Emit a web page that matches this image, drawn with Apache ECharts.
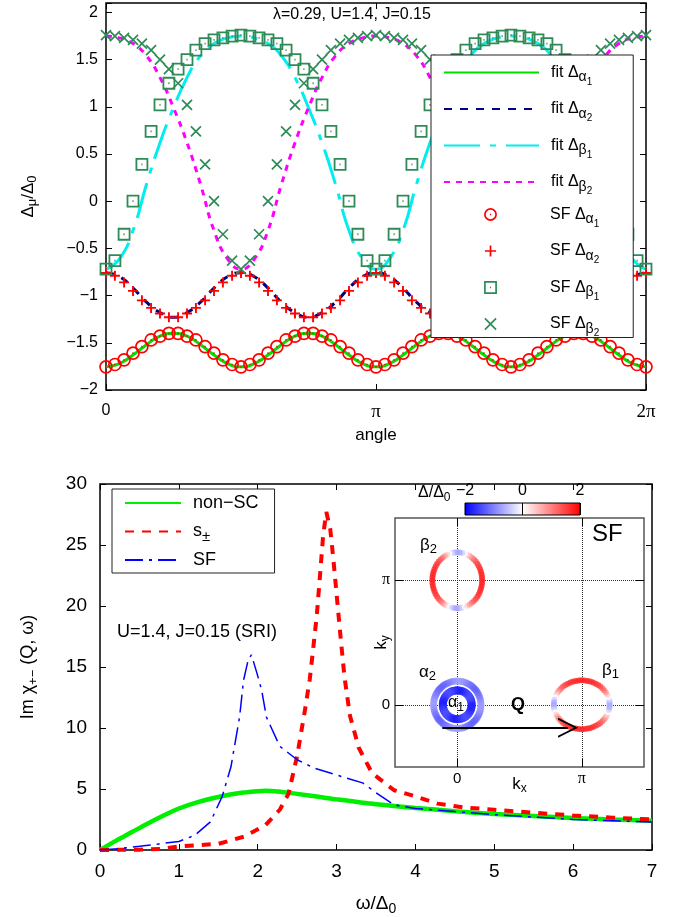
<!DOCTYPE html>
<html>
<head>
<meta charset="utf-8">
<script src="https://cdn.jsdelivr.net/npm/echarts@6/dist/echarts.min.js"></script>
<style>
  html, body { margin: 0; padding: 0; background: #fff; }
  #chart { width: 689px; height: 917px; }
</style>
</head>
<body>
<div id="chart"></div>
<script>
// ---- top panel: gap around the Fermi surfaces (angle in units of pi) ----
var sfAngle = [0, 0.033, 0.067, 0.1, 0.133, 0.167, 0.2, 0.233, 0.267, 0.3, 0.333, 0.367, 0.4, 0.433, 0.467,
  0.5, 0.533, 0.567, 0.6, 0.633, 0.667, 0.7, 0.733, 0.767, 0.8, 0.833, 0.867, 0.9, 0.933, 0.967,
  1, 1.033, 1.067, 1.1, 1.133, 1.167, 1.2, 1.233, 1.267, 1.3, 1.333, 1.367, 1.4, 1.433, 1.467,
  1.5, 1.533, 1.567, 1.6, 1.633, 1.667, 1.7, 1.733, 1.767, 1.8, 1.833, 1.867, 1.9, 1.933, 1.967, 2];

var sfAlpha1 = [-1.755, -1.73, -1.68, -1.61, -1.54, -1.47, -1.43, -1.40, -1.40, -1.43, -1.47, -1.54, -1.61, -1.68, -1.73,
  -1.755, -1.73, -1.68, -1.61, -1.54, -1.47, -1.43, -1.40, -1.40, -1.43, -1.47, -1.54, -1.61, -1.68, -1.73,
  -1.755, -1.73, -1.68, -1.61, -1.54, -1.47, -1.43, -1.40, -1.40, -1.43, -1.47, -1.54, -1.61, -1.68, -1.73,
  -1.755, -1.73, -1.68, -1.61, -1.54, -1.47, -1.43, -1.40, -1.40, -1.43, -1.47, -1.54, -1.61, -1.68, -1.73,
  -1.755];
var sfAlpha2 = [-0.76, -0.79, -0.86, -0.95, -1.05, -1.13, -1.19, -1.23, -1.23, -1.19, -1.13, -1.05, -0.95, -0.86, -0.79,
  -0.76, -0.79, -0.86, -0.95, -1.05, -1.13, -1.19, -1.23, -1.23, -1.19, -1.13, -1.05, -0.95, -0.86, -0.79,
  -0.76, -0.79, -0.86, -0.95, -1.05, -1.13, -1.19, -1.23, -1.23, -1.19, -1.13, -1.05, -0.95, -0.86, -0.79,
  -0.76, -0.79, -0.86, -0.95, -1.05, -1.13, -1.19, -1.23, -1.23, -1.19, -1.13, -1.05, -0.95, -0.86, -0.79,
  -0.76];
var sfBeta1 = [-0.72, -0.63, -0.35, 0.00, 0.39, 0.74, 1.02, 1.25, 1.40, 1.50, 1.60, 1.67, 1.71, 1.73, 1.75,
  1.76, 1.75, 1.73, 1.71, 1.67, 1.60, 1.50, 1.40, 1.25, 1.02, 0.74, 0.39, 0.00, -0.35, -0.63,
  -0.72, -0.63, -0.35, 0.00, 0.39, 0.74, 1.02, 1.25, 1.40, 1.50, 1.60, 1.67, 1.71, 1.73, 1.75,
  1.76, 1.75, 1.73, 1.71, 1.67, 1.60, 1.50, 1.40, 1.25, 1.02, 0.74, 0.39, 0.00, -0.35, -0.63,
  -0.72];
var sfBeta2 = [1.76, 1.75, 1.73, 1.71, 1.67, 1.60, 1.50, 1.40, 1.25, 1.02, 0.74, 0.39, 0.00, -0.35, -0.63,
  -0.72, -0.63, -0.35, 0.00, 0.39, 0.74, 1.02, 1.25, 1.40, 1.50, 1.60, 1.67, 1.71, 1.73, 1.75,
  1.76, 1.75, 1.73, 1.71, 1.67, 1.60, 1.50, 1.40, 1.25, 1.02, 0.74, 0.39, 0.00, -0.35, -0.63,
  -0.72, -0.63, -0.35, 0.00, 0.39, 0.74, 1.02, 1.25, 1.40, 1.50, 1.60, 1.67, 1.71, 1.73, 1.75,
  1.76];

var fitAngle = [0, 0.05, 0.1, 0.15, 0.2, 0.25, 0.3, 0.35, 0.4, 0.45, 0.5, 0.55, 0.6, 0.65, 0.7, 0.75, 0.8, 0.85, 0.9, 0.95,
  1, 1.05, 1.1, 1.15, 1.2, 1.25, 1.3, 1.35, 1.4, 1.45, 1.5, 1.55, 1.6, 1.65, 1.7, 1.75, 1.8, 1.85, 1.9, 1.95, 2];
var fitAlpha1 = [-1.755, -1.72, -1.63, -1.52, -1.43, -1.40, -1.43, -1.52, -1.63, -1.72,
  -1.755, -1.72, -1.63, -1.52, -1.43, -1.40, -1.43, -1.52, -1.63, -1.72,
  -1.755, -1.72, -1.63, -1.52, -1.43, -1.40, -1.43, -1.52, -1.63, -1.72,
  -1.755, -1.72, -1.63, -1.52, -1.43, -1.40, -1.43, -1.52, -1.63, -1.72, -1.755];
var fitAlpha2 = [-0.757, -0.80, -0.92, -1.07, -1.18, -1.23, -1.18, -1.07, -0.92, -0.80,
  -0.757, -0.80, -0.92, -1.07, -1.18, -1.23, -1.18, -1.07, -0.92, -0.80,
  -0.757, -0.80, -0.92, -1.07, -1.18, -1.23, -1.18, -1.07, -0.92, -0.80,
  -0.757, -0.80, -0.92, -1.07, -1.18, -1.23, -1.18, -1.07, -0.92, -0.80, -0.757];
var fitBeta1 = [-0.72, -0.61, -0.31, 0.18, 0.62, 0.99, 1.31, 1.54, 1.67, 1.73, 1.75, 1.73, 1.67, 1.54, 1.31, 0.99, 0.62, 0.18, -0.31, -0.61,
  -0.72, -0.61, -0.31, 0.18, 0.62, 0.99, 1.31, 1.54, 1.67, 1.73, 1.75, 1.73, 1.67, 1.54, 1.31, 0.99, 0.62, 0.18, -0.31, -0.61, -0.72];
var fitBeta2 = [1.75, 1.73, 1.67, 1.54, 1.31, 0.99, 0.62, 0.18, -0.31, -0.61, -0.72, -0.61, -0.31, 0.18, 0.62, 0.99, 1.31, 1.54, 1.67, 1.73,
  1.75, 1.73, 1.67, 1.54, 1.31, 0.99, 0.62, 0.18, -0.31, -0.61, -0.72, -0.61, -0.31, 0.18, 0.62, 0.99, 1.31, 1.54, 1.67, 1.73, 1.75];

// ---- bottom panel: Im chi(Q, omega) ----
var omegaNonSC = [0, 0.2, 0.4, 0.6, 0.8, 1.0, 1.25, 1.5, 1.75, 2.0, 2.1, 2.25, 2.5, 2.75, 3.0, 3.5, 4.0, 4.5, 5.0, 5.5, 6.0, 6.5, 7.0];
var chiNonSC = [0, 0.75, 1.45, 2.15, 2.8, 3.4, 3.95, 4.35, 4.65, 4.82, 4.85, 4.8, 4.6, 4.38, 4.15, 3.75, 3.45, 3.18, 2.95, 2.78, 2.62, 2.5, 2.4];

var omegaSpm = [0, 0.5, 0.8, 1.0, 1.5, 1.83, 2.1, 2.28, 2.39, 2.5, 2.6, 2.66, 2.7, 2.75, 2.79, 2.83, 2.87, 2.92, 2.96, 3.0, 3.05, 3.1, 3.17, 3.28, 3.45, 3.73, 4.0, 4.28, 4.6, 5.0, 5.5, 6.0, 6.5, 7.0];
var chiSpm = [0, 0.03, 0.1, 0.3, 0.5, 1.1, 2.05, 3.3, 4.6, 7.7, 11.5, 14.0, 16.3, 19.3, 22.5, 25.8, 27.7, 26.3, 23.8, 21.0, 17.5, 14.2, 11.0, 8.4, 6.3, 4.9, 4.4, 3.8, 3.5, 3.3, 3.05, 2.83, 2.65, 2.5];

var omegaSF = [0, 0.25, 0.5, 0.75, 1.0, 1.2, 1.4, 1.55, 1.66, 1.77, 1.82, 1.88, 1.92, 1.99, 2.05, 2.11, 2.28, 2.5, 2.72, 3.0, 3.33, 3.5, 3.73, 4.0, 4.5, 5.0, 5.5, 6.0, 6.5, 7.0];
var chiSF = [0, 0.12, 0.3, 0.5, 0.7, 1.2, 2.3, 4.4, 6.8, 10.9, 13.9, 15.6, 16.0, 14.5, 13.1, 10.9, 8.5, 7.4, 6.7, 6.15, 5.5, 4.7, 3.7, 3.4, 3.15, 2.9, 2.7, 2.5, 2.4, 2.3];

// ---- inset: pockets (centre and half-axes in units of pi) ----
var pocketCx = [0, 0, 1, 0];          // alpha1, alpha2, beta1, beta2
var pocketCy = [0, 0, 0, 1];
var pocketRx = [0.116, 0.19, 0.224, 0.2];
var pocketRy = [0.116, 0.19, 0.196, 0.224];
var qArrow = [[-0.12, -0.184], [0.89, -0.184]];

var FONT = '"Liberation Sans", Arial, Helvetica, sans-serif';
var SERIF = '"Liberation Serif", "Times New Roman", serif';

function pairs(xs, ys) {
  return xs.map(function (x, i) { return [x, ys[i]]; });
}
function ring(p, gap) {
  return sfAngle.slice(0, 60).map(function (a, i) {
    return [pocketCx[p] + pocketRx[p] * Math.cos(a * Math.PI),
            pocketCy[p] + pocketRy[p] * Math.sin(a * Math.PI), gap[i]];
  });
}
function minus(v) {
  return v < 0 ? '\u2212' + String(-v) : String(v);
}
function piLabel(v) {
  if (Math.abs(v) < 1e-9) return '0';
  if (Math.abs(v - 1) < 1e-9) return '{p|\u03c0}';
  return '{p|2\u03c0}';
}

var chart = echarts.init(document.getElementById('chart'), null, { renderer: 'canvas' });

var tick = { inside: true, length: 6, lineStyle: { color: '#000', width: 1 } };
var noLine = { show: false, onZero: false };

var topLegendRich = {
  l: { fontFamily: FONT, fontSize: 16, lineHeight: 28, padding: [0, 0, 0, 7], color: '#000' },
  s: { fontFamily: FONT, fontSize: 14, lineHeight: 28, padding: [10, 0, 0, 0], color: '#000' },
  ss: { fontFamily: FONT, fontSize: 10, lineHeight: 28, padding: [19, 0, 0, 0], color: '#000' }
};
var legendText = {
  'fit \u0394\u03b11': '{l|fit \u0394}{s|\u03b1}{ss|1}',
  'fit \u0394\u03b12': '{l|fit \u0394}{s|\u03b1}{ss|2}',
  'fit \u0394\u03b21': '{l|fit \u0394}{s|\u03b2}{ss|1}',
  'fit \u0394\u03b22': '{l|fit \u0394}{s|\u03b2}{ss|2}',
  'SF \u0394\u03b11': '{l|SF \u0394}{s|\u03b1}{ss|1}',
  'SF \u0394\u03b12': '{l|SF \u0394}{s|\u03b1}{ss|2}',
  'SF \u0394\u03b21': '{l|SF \u0394}{s|\u03b2}{ss|1}',
  'SF \u0394\u03b22': '{l|SF \u0394}{s|\u03b2}{ss|2}',
  'non\u2212SC': '{l|non\u2212SC}',
  's\u00b1': '{l|s}{s|\u00b1}',
  'SF': '{l|SF}'
};
function legendFmt(name) { return legendText[name]; }

var symCircleDot = 'path://M10,5A5,5,0,1,1,0,5A5,5,0,1,1,10,5Z M4.5,5L5.5,5';
var symPlus = 'path://M0,5L10,5M5,0L5,10';
var symBoxDot = 'path://M0,0L10,0L10,10L0,10Z M4.5,5L5.5,5';
var symCross = 'path://M0,0L10,10M10,0L0,10';
var clear = 'rgba(0,0,0,0)';
var hidden = { width: 0, opacity: 0 };

var option = {
  animation: false,
  backgroundColor: '#fff',
  textStyle: { fontFamily: FONT, color: '#000' },
  grid: [
    { left: 106, right: 43, top: 3, height: 387, show: true, borderColor: '#000', borderWidth: 1.5, backgroundColor: clear, outerBoundsMode: 'none' },
    { left: 100, right: 37, top: 484, height: 366, show: true, borderColor: '#000', borderWidth: 1.5, backgroundColor: clear, outerBoundsMode: 'none' },
    { left: 395, top: 518, width: 249, height: 249, show: true, borderColor: '#555', borderWidth: 1.5, backgroundColor: '#fff', z: 3, outerBoundsMode: 'none' },
    { left: 465, top: 503, width: 115, height: 12, show: false, outerBoundsMode: 'none' }
  ],
  xAxis: [
    { gridIndex: 0, type: 'value', min: 0, max: 2, interval: 1, axisLine: noLine, axisTick: tick, splitLine: noLine,
      axisLabel: { margin: 13, fontSize: 16, color: '#000', formatter: piLabel, rich: { p: { fontFamily: SERIF, fontSize: 19, color: '#000' } } },
      name: 'angle', nameLocation: 'middle', nameGap: 37, nameMoveOverlap: false, nameTextStyle: { fontSize: 17, color: '#000' } },
    { gridIndex: 0, type: 'value', position: 'top', min: 0, max: 2, interval: 1, axisLine: noLine, axisTick: tick, splitLine: noLine, axisLabel: { show: false } },
    { gridIndex: 1, type: 'value', min: 0, max: 7, interval: 1, axisLine: noLine, axisTick: tick, splitLine: noLine,
      axisLabel: { margin: 12, fontSize: 19, color: '#000' },
      name: '{a|\u03c9/\u0394}{s|0}', nameLocation: 'middle', nameGap: 42, nameMoveOverlap: false,
      nameTextStyle: { rich: { a: { fontFamily: FONT, fontSize: 19, color: '#000' }, s: { fontFamily: FONT, fontSize: 14, padding: [10, 0, 0, 0], color: '#000' } } } },
    { gridIndex: 1, type: 'value', position: 'top', min: 0, max: 7, interval: 1, axisLine: noLine, axisTick: tick, splitLine: noLine, axisLabel: { show: false } },
    { gridIndex: 2, type: 'value', min: -0.5, max: 1.5, z: 6, axisLine: noLine, splitLine: noLine,
      axisTick: { inside: true, length: 8, customValues: [0, 1], lineStyle: { color: '#000' } },
      axisLabel: { customValues: [0, 1], margin: 4, fontSize: 15, color: '#000', formatter: piLabel, rich: { p: { fontFamily: SERIF, fontSize: 16, color: '#000' } } },
      name: '{a|k}{s|x}', nameLocation: 'middle', nameGap: 7, nameMoveOverlap: false,
      nameTextStyle: { rich: { a: { fontFamily: FONT, fontSize: 17, color: '#000' }, s: { fontFamily: FONT, fontSize: 12, padding: [9, 0, 0, 0], color: '#000' } } } },
    { gridIndex: 2, type: 'value', position: 'top', min: -0.5, max: 1.5, z: 6, axisLine: noLine, splitLine: noLine, axisLabel: { show: false },
      axisTick: { inside: true, length: 8, customValues: [0, 1], lineStyle: { color: '#000' } } },
    { gridIndex: 3, type: 'value', position: 'top', min: -2, max: 2, interval: 2, z: 5, axisLine: noLine, splitLine: noLine,
      axisTick: { inside: true, length: 12, lineStyle: { color: '#000', width: 1 } },
      axisLabel: { margin: 4, fontSize: 16, color: '#000', formatter: minus } }
  ],
  yAxis: [
    { gridIndex: 0, type: 'value', min: -2, max: 2.1, interval: 0.5, axisLine: noLine, axisTick: tick, splitLine: noLine,
      axisLabel: { margin: 8, fontSize: 16, color: '#000', formatter: function (v) { return v > 2.05 ? '' : minus(v); } },
      name: '{a|\u0394}{s|\u03bc}{a|/\u0394}{s|0}', nameLocation: 'middle', nameGap: 67, nameMoveOverlap: false,
      nameTextStyle: { rich: { a: { fontFamily: FONT, fontSize: 17, color: '#000' }, s: { fontFamily: FONT, fontSize: 13, padding: [9, 0, 0, 0], color: '#000' } } } },
    { gridIndex: 0, type: 'value', position: 'right', min: -2, max: 2.1, interval: 0.5, axisLine: noLine, axisTick: tick, splitLine: noLine, axisLabel: { show: false } },
    { gridIndex: 1, type: 'value', min: 0, max: 30, interval: 5, axisLine: noLine, axisTick: tick, splitLine: noLine,
      axisLabel: { margin: 13, fontSize: 19, color: '#000' },
      name: '{a|Im \u03c7}{s|+\u2212}{a| (Q, \u03c9)}', nameLocation: 'middle', nameGap: 60, nameMoveOverlap: false,
      nameTextStyle: { rich: { a: { fontFamily: FONT, fontSize: 18, color: '#000' }, s: { fontFamily: FONT, fontSize: 13, padding: [10, 0, 0, 0], color: '#000' } } } },
    { gridIndex: 1, type: 'value', position: 'right', min: 0, max: 30, interval: 5, axisLine: noLine, axisTick: tick, splitLine: noLine, axisLabel: { show: false } },
    { gridIndex: 2, type: 'value', min: -0.5, max: 1.5, z: 6, axisLine: noLine, splitLine: noLine,
      axisTick: { inside: true, length: 8, customValues: [0, 1], lineStyle: { color: '#000' } },
      axisLabel: { customValues: [0, 1], margin: 5, fontSize: 15, color: '#000', formatter: piLabel, rich: { p: { fontFamily: SERIF, fontSize: 16, color: '#000' } } },
      name: '{a|k}{s|y}', nameLocation: 'middle', nameGap: 3, nameMoveOverlap: false,
      nameTextStyle: { rich: { a: { fontFamily: FONT, fontSize: 17, color: '#000' }, s: { fontFamily: FONT, fontSize: 12, padding: [9, 0, 0, 0], color: '#000' } } } },
    { gridIndex: 2, type: 'value', position: 'right', min: -0.5, max: 1.5, z: 6, axisLine: noLine, splitLine: noLine, axisLabel: { show: false },
      axisTick: { inside: true, length: 8, customValues: [0, 1], lineStyle: { color: '#000' } } },
    { gridIndex: 3, type: 'value', show: false, min: 0, max: 1 }
  ],
  legend: [
    { data: ['fit \u0394\u03b11', 'fit \u0394\u03b12', 'fit \u0394\u03b21', 'fit \u0394\u03b22'],
      left: 431, top: 55, orient: 'vertical', itemWidth: 95, itemHeight: 14, itemGap: 7.5,
      padding: [3, 41, 141, 12], backgroundColor: '#fff', borderColor: '#222', borderWidth: 1, borderRadius: 0,
      itemStyle: { opacity: 0 }, formatter: legendFmt, textStyle: { rich: topLegendRich }, selectedMode: false },
    { data: ['SF \u0394\u03b11', 'SF \u0394\u03b12', 'SF \u0394\u03b21', 'SF \u0394\u03b22'],
      left: 431, top: 200, z: 5, orient: 'vertical', itemWidth: 95, itemHeight: 14, itemGap: 7.5,
      padding: [0, 41, 0, 12], backgroundColor: clear,
      itemStyle: { borderWidth: 1.7 }, lineStyle: { opacity: 0 }, formatter: legendFmt, textStyle: { rich: topLegendRich }, selectedMode: false },
    { data: ['non\u2212SC', 's\u00b1', 'SF'],
      left: 112, top: 489, orient: 'vertical', itemWidth: 56, itemHeight: 14, itemGap: 7,
      padding: [5, 16, 4, 12], backgroundColor: '#fff', borderColor: '#222', borderWidth: 1, borderRadius: 0,
      itemStyle: { opacity: 0 }, formatter: legendFmt, selectedMode: false,
      textStyle: { rich: {
        l: { fontFamily: FONT, fontSize: 18, lineHeight: 28, padding: [0, 0, 0, 7], color: '#000' },
        s: { fontFamily: FONT, fontSize: 15, lineHeight: 28, padding: [10, 0, 0, 0], color: '#000' } } } }
  ],
  visualMap: {
    type: 'continuous', show: false, min: -2, max: 2, dimension: 2, seriesIndex: [11, 12, 13, 14],
    inRange: { color: ['#0000ff', '#ffffff', '#ff0000'] }
  },
  series: [
    { name: 'fit \u0394\u03b11', type: 'line', xAxisIndex: 0, yAxisIndex: 0, data: pairs(fitAngle, fitAlpha1), symbol: 'none', smooth: true,
      lineStyle: { color: '#00e000', width: 3 }, itemStyle: { color: '#00e000' } },
    { name: 'fit \u0394\u03b12', type: 'line', xAxisIndex: 0, yAxisIndex: 0, data: pairs(fitAngle, fitAlpha2), symbol: 'none', smooth: true,
      lineStyle: { color: '#000080', width: 3, type: [8, 8] }, itemStyle: { color: '#000080' } },
    { name: 'fit \u0394\u03b21', type: 'line', xAxisIndex: 0, yAxisIndex: 0, data: pairs(fitAngle, fitBeta1), symbol: 'none', smooth: true,
      lineStyle: { color: '#00eeee', width: 3, type: [36, 10, 6, 10] }, itemStyle: { color: '#00eeee' } },
    { name: 'fit \u0394\u03b22', type: 'line', xAxisIndex: 0, yAxisIndex: 0, data: pairs(fitAngle, fitBeta2), symbol: 'none', smooth: true,
      lineStyle: { color: '#ff00ff', width: 3, type: [6, 6] }, itemStyle: { color: '#ff00ff' } },
    { name: 'SF \u0394\u03b11', type: 'line', xAxisIndex: 0, yAxisIndex: 0, data: pairs(sfAngle, sfAlpha1), symbol: symCircleDot, symbolSize: 12,
      showSymbol: true, lineStyle: hidden, itemStyle: { color: clear, borderColor: '#ff0000', borderWidth: 1.7 } },
    { name: 'SF \u0394\u03b12', type: 'line', xAxisIndex: 0, yAxisIndex: 0, data: pairs(sfAngle, sfAlpha2), symbol: symPlus, symbolSize: 10,
      showSymbol: true, lineStyle: hidden, itemStyle: { color: clear, borderColor: '#ff0000', borderWidth: 1.9 } },
    { name: 'SF \u0394\u03b21', type: 'line', xAxisIndex: 0, yAxisIndex: 0, data: pairs(sfAngle, sfBeta1), symbol: symBoxDot, symbolSize: 11,
      showSymbol: true, lineStyle: hidden, itemStyle: { color: clear, borderColor: '#2e8b57', borderWidth: 1.8 } },
    { name: 'SF \u0394\u03b22', type: 'line', xAxisIndex: 0, yAxisIndex: 0, data: pairs(sfAngle, sfBeta2), symbol: symCross, symbolSize: 10,
      showSymbol: true, lineStyle: hidden, itemStyle: { color: clear, borderColor: '#2e8b57', borderWidth: 1.7 } },

    { name: 'non\u2212SC', type: 'line', xAxisIndex: 2, yAxisIndex: 2, data: pairs(omegaNonSC, chiNonSC), symbol: 'none', smooth: 0.3,
      lineStyle: { color: '#00ee00', width: 4.5 }, itemStyle: { color: '#00ee00' } },
    { name: 's\u00b1', type: 'line', xAxisIndex: 2, yAxisIndex: 2, data: pairs(omegaSpm, chiSpm), symbol: 'none',
      lineStyle: { color: '#ff0000', width: 4, type: [9, 8] }, itemStyle: { color: '#ff0000' } },
    { name: 'SF', type: 'line', xAxisIndex: 2, yAxisIndex: 2, data: pairs(omegaSF, chiSF), symbol: 'none',
      lineStyle: { color: '#0000ff', width: 1.5, type: [18, 6, 3, 6] }, itemStyle: { color: '#0000ff' } },

    { name: 'ring \u03b12', type: 'scatter', xAxisIndex: 4, yAxisIndex: 4, z: 5, data: ring(1, sfAlpha2), symbol: 'circle', symbolSize: 7,
      markLine: { silent: true, symbol: 'none', label: { show: false }, lineStyle: { type: 'dotted', color: '#333', width: 1 },
        data: [{ xAxis: 0 }, { xAxis: 1 }, { yAxis: 0 }, { yAxis: 1 }] } },
    { name: 'ring \u03b11', type: 'scatter', xAxisIndex: 4, yAxisIndex: 4, z: 5, data: ring(0, sfAlpha1), symbol: 'circle', symbolSize: 8 },
    { name: 'ring \u03b21', type: 'scatter', xAxisIndex: 4, yAxisIndex: 4, z: 5, data: ring(2, sfBeta1), symbol: 'circle', symbolSize: 6 },
    { name: 'ring \u03b22', type: 'scatter', xAxisIndex: 4, yAxisIndex: 4, z: 5, data: ring(3, sfBeta2), symbol: 'circle', symbolSize: 6 },
    { name: 'Q', type: 'lines', coordinateSystem: 'cartesian2d', xAxisIndex: 4, yAxisIndex: 4, z: 6,
      symbol: ['none', 'path://M0,10L5,0L10,10L9,10L5,2L1,10Z'], symbolSize: [14, 20],
      lineStyle: { color: '#000', width: 2, opacity: 1, curveness: 0 }, data: [{ coords: qArrow }] }
  ],
  graphic: [
    { type: 'text', x: 273, y: 15, z: 10, style: { text: '\u03bb=0.29, U=1.4, J=0.15', font: '16px ' + FONT, fill: '#000', verticalAlign: 'middle' } },
    { type: 'text', x: 117, y: 632, z: 10, style: { text: 'U=1.4, J=0.15 (SRI)', font: '18px ' + FONT, fill: '#000', verticalAlign: 'middle' } },
    { type: 'rect', z: 1, shape: { x: 465, y: 503, width: 115, height: 12 },
      style: { stroke: '#000', lineWidth: 1,
        fill: { type: 'linear', x: 0, y: 0, x2: 1, y2: 0, colorStops: [{ offset: 0, color: '#0000ff' }, { offset: 0.5, color: '#ffffff' }, { offset: 1, color: '#ff0000' }] } } },
    { type: 'text', x: 418, y: 493, z: 10, style: { text: '{a|\u0394/\u0394}{s|0}', verticalAlign: 'middle',
      rich: { a: { fontFamily: FONT, fontSize: 16, fill: '#000' }, s: { fontFamily: FONT, fontSize: 12, padding: [9, 0, 0, 0], fill: '#000' } } } },
    { type: 'text', x: 420, y: 545, z: 10, style: { text: '{a|\u03b2}{s|2}', verticalAlign: 'middle',
      rich: { a: { fontFamily: FONT, fontSize: 17, fill: '#000' }, s: { fontFamily: FONT, fontSize: 13, padding: [9, 0, 0, 0], fill: '#000' } } } },
    { type: 'text', x: 419, y: 672, z: 10, style: { text: '{a|\u03b1}{s|2}', verticalAlign: 'middle',
      rich: { a: { fontFamily: FONT, fontSize: 17, fill: '#000' }, s: { fontFamily: FONT, fontSize: 13, padding: [9, 0, 0, 0], fill: '#000' } } } },
    { type: 'text', x: 448, y: 703, z: 10, style: { text: '{a|\u03b1}{s|1}', verticalAlign: 'middle',
      rich: { a: { fontFamily: FONT, fontSize: 16, fill: '#000' }, s: { fontFamily: FONT, fontSize: 12, padding: [9, 0, 0, 0], fill: '#000' } } } },
    { type: 'text', x: 602, y: 670, z: 10, style: { text: '{a|\u03b2}{s|1}', verticalAlign: 'middle',
      rich: { a: { fontFamily: FONT, fontSize: 17, fill: '#000' }, s: { fontFamily: FONT, fontSize: 13, padding: [9, 0, 0, 0], fill: '#000' } } } },
    { type: 'text', x: 592, y: 534, z: 10, style: { text: 'SF', font: '24px ' + FONT, fill: '#000', verticalAlign: 'middle' } },
    { type: 'text', x: 511, y: 705, z: 10, style: { text: 'Q', font: 'bold 18px ' + FONT, fill: '#000', verticalAlign: 'middle' } }
  ]
};

chart.setOption(option);
</script>
</body>
</html>
